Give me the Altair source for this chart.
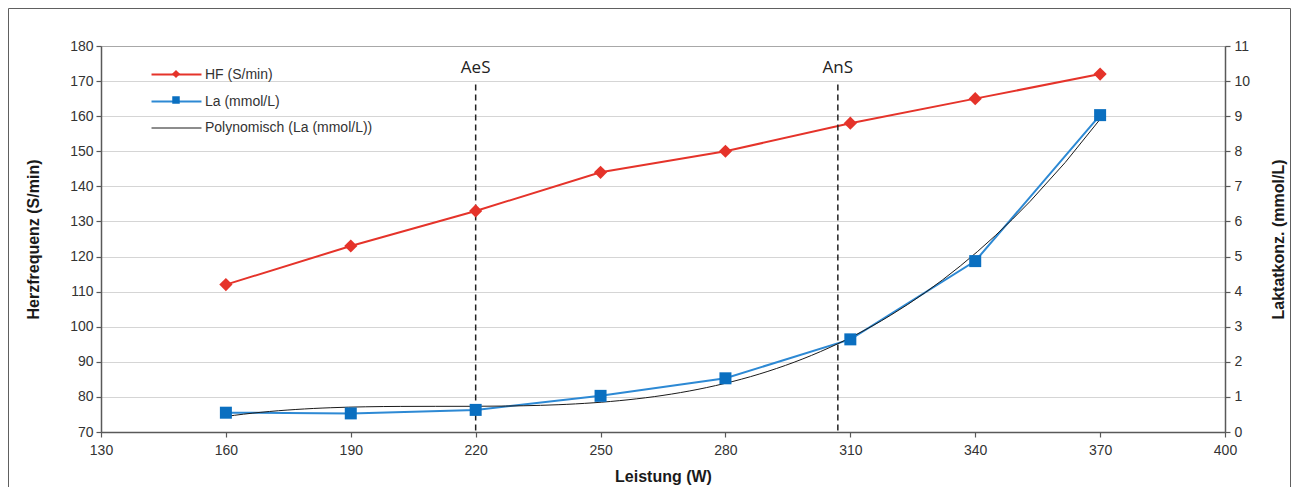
import altair as alt
import pandas as pd

# ---- data ----
watts = [160, 190, 220, 250, 280, 310, 340, 370]
hf_values = [112, 123, 133, 144, 150, 158, 165, 172]
la_values = [0.55, 0.53, 0.63, 1.03, 1.53, 2.64, 4.87, 9.03]
thresholds = [220, 307]
threshold_labels = ["AeS", "AnS"]
series_names = ["HF (S/min)", "La (mmol/L)", "Polynomisch (La (mmol/L))"]
x_ticks = [130, 160, 190, 220, 250, 280, 310, 340, 370, 400]
hf_ticks = [70, 80, 90, 100, 110, 120, 130, 140, 150, 160, 170, 180]
la_ticks = [0, 1, 2, 3, 4, 5, 6, 7, 8, 9, 10, 11]

hf_df = pd.DataFrame({"W": watts, "value": hf_values, "series": series_names[0]})
la_df = pd.DataFrame({"W": watts, "value": la_values, "series": series_names[1]})
thr_df = pd.DataFrame({"W": thresholds, "label": threshold_labels})
frame_df = pd.DataFrame({"frame": [0]})

RED = "#e5332a"
BLUE_LINE = "#2d89d4"
BLUE_MARK = "#0a6fc0"
LABEL_FONT = "Liberation Sans"

DIAMOND = "M0,-0.66L0.66,0L0,0.66L-0.66,0Z"
SQUARE = "M-0.6,-0.6H0.6V0.6H-0.6Z"

axis_common = dict(
    labelFont=LABEL_FONT, labelFontSize=14, labelColor="#333333", labelOverlap=False,
    titleFont=LABEL_FONT, titleFontSize=16, titleFontWeight="bold", titleColor="#1a1a1a",
    domainColor="#595959", domainWidth=1.5, tickColor="#595959", tickWidth=1.2, tickSize=5,
)

x_enc = alt.X(
    "W:Q",
    scale=alt.Scale(domain=[130, 400], nice=False, zero=False),
    axis=alt.Axis(values=x_ticks, title="Leistung (W)", grid=False, labelPadding=6,
                  labelFlush=False, titlePadding=11, format="d", **axis_common),
)

y_left_scale = alt.Scale(domain=[70, 180], nice=False, zero=False)
left_axis = alt.Axis(values=hf_ticks, title="Herzfrequenz (S/min)", grid=True,
                     gridColor="#ababab", gridDash=[1, 1], gridWidth=1,
                     labelPadding=3, titlePadding=28, **axis_common)
y_left = alt.Y("value:Q", scale=y_left_scale, axis=left_axis)
y_right = alt.Y(
    "value:Q", scale=alt.Scale(domain=[0, 11], nice=False, zero=False),
    axis=alt.Axis(values=la_ticks, title="Laktatkonz. (mmol/L)", orient="right", grid=False,
                  labelPadding=4, titlePadding=37, titleAngle=270, **axis_common),
)

legend_common = dict(
    orient="none", legendX=68, legendY=21, title=None, padding=0,
    labelFont=LABEL_FONT, labelFontSize=14, labelColor="#333333", labelLimit=400,
    symbolSize=156, rowPadding=12, labelOffset=21,
)

stroke_enc = alt.Stroke(
    "series:N",
    scale=alt.Scale(domain=series_names, range=[RED, BLUE_LINE, "#1a1a1a"]),
    legend=alt.Legend(symbolType="M-4,0H4", **legend_common),
)
width_enc = alt.StrokeWidth(
    "series:N",
    scale=alt.Scale(type="ordinal", domain=series_names, range=[2, 2, 1]),
    legend=alt.Legend(symbolType="M-4,0H4", **legend_common),
)
fill_enc = alt.Fill(
    "series:N",
    scale=alt.Scale(domain=series_names[:2], range=[RED, BLUE_MARK]),
    legend=alt.Legend(labelOpacity=0, symbolStrokeWidth=0, **legend_common),
)
shape_enc = alt.Shape(
    "series:N",
    scale=alt.Scale(domain=series_names[:2], range=[DIAMOND, SQUARE]),
    legend=alt.Legend(labelOpacity=0, symbolStrokeWidth=0, **legend_common),
)

hf_line = alt.Chart(hf_df).mark_line().encode(x=x_enc, y=y_left, stroke=stroke_enc, strokeWidth=width_enc)
hf_pts = alt.Chart(hf_df).mark_point(filled=True, size=400, opacity=1, strokeWidth=0).encode(
    x=x_enc, y=y_left, fill=fill_enc, shape=shape_enc)

rules = alt.Chart(thr_df).mark_rule(strokeDash=[6, 4], strokeWidth=1.5, color="#222222").encode(
    x=x_enc, y=alt.YDatum(169, scale=y_left_scale, axis=left_axis), y2=alt.Y2Datum(70))
texts = alt.Chart(thr_df).mark_text(font="Open Sans", fontSize=17, color="#222222").encode(
    x=x_enc, y=alt.YDatum(173.8, scale=y_left_scale, axis=left_axis), text="label:N")

left = alt.layer(hf_line, rules, texts, hf_pts)

la_line = alt.Chart(la_df).mark_line().encode(x=x_enc, y=y_right, stroke=stroke_enc, strokeWidth=width_enc)
trend = alt.Chart(la_df).transform_regression(
    "W", "value", method="poly", order=3, extent=[160, 370]
).transform_calculate(series=f"'{series_names[2]}'").mark_line().encode(
    x=x_enc, y=y_right, stroke=stroke_enc, strokeWidth=width_enc)
la_pts = alt.Chart(la_df).mark_point(filled=True, size=400, opacity=1, strokeWidth=0).encode(
    x=x_enc, y=y_right, fill=fill_enc, shape=shape_enc)

right = alt.layer(la_line, trend, la_pts)

frame = alt.Chart(frame_df).mark_rect(fill="transparent", stroke="#606060", strokeWidth=1).encode(
    x=alt.value(-92.5), x2=alt.value(1189.5), y=alt.value(-37.5), y2=alt.value(600))

chart = alt.layer(left, right, frame).resolve_scale(y="independent").properties(
    width=1124, height=386,
    autosize=alt.AutoSizeParams(type="none"),
    padding={"left": 93, "top": 38, "right": 66, "bottom": 55},
).configure_view(stroke="#a6a6a6", strokeWidth=1)

chart.save("out.html", embed_options={"renderer": "svg", "actions": False})
